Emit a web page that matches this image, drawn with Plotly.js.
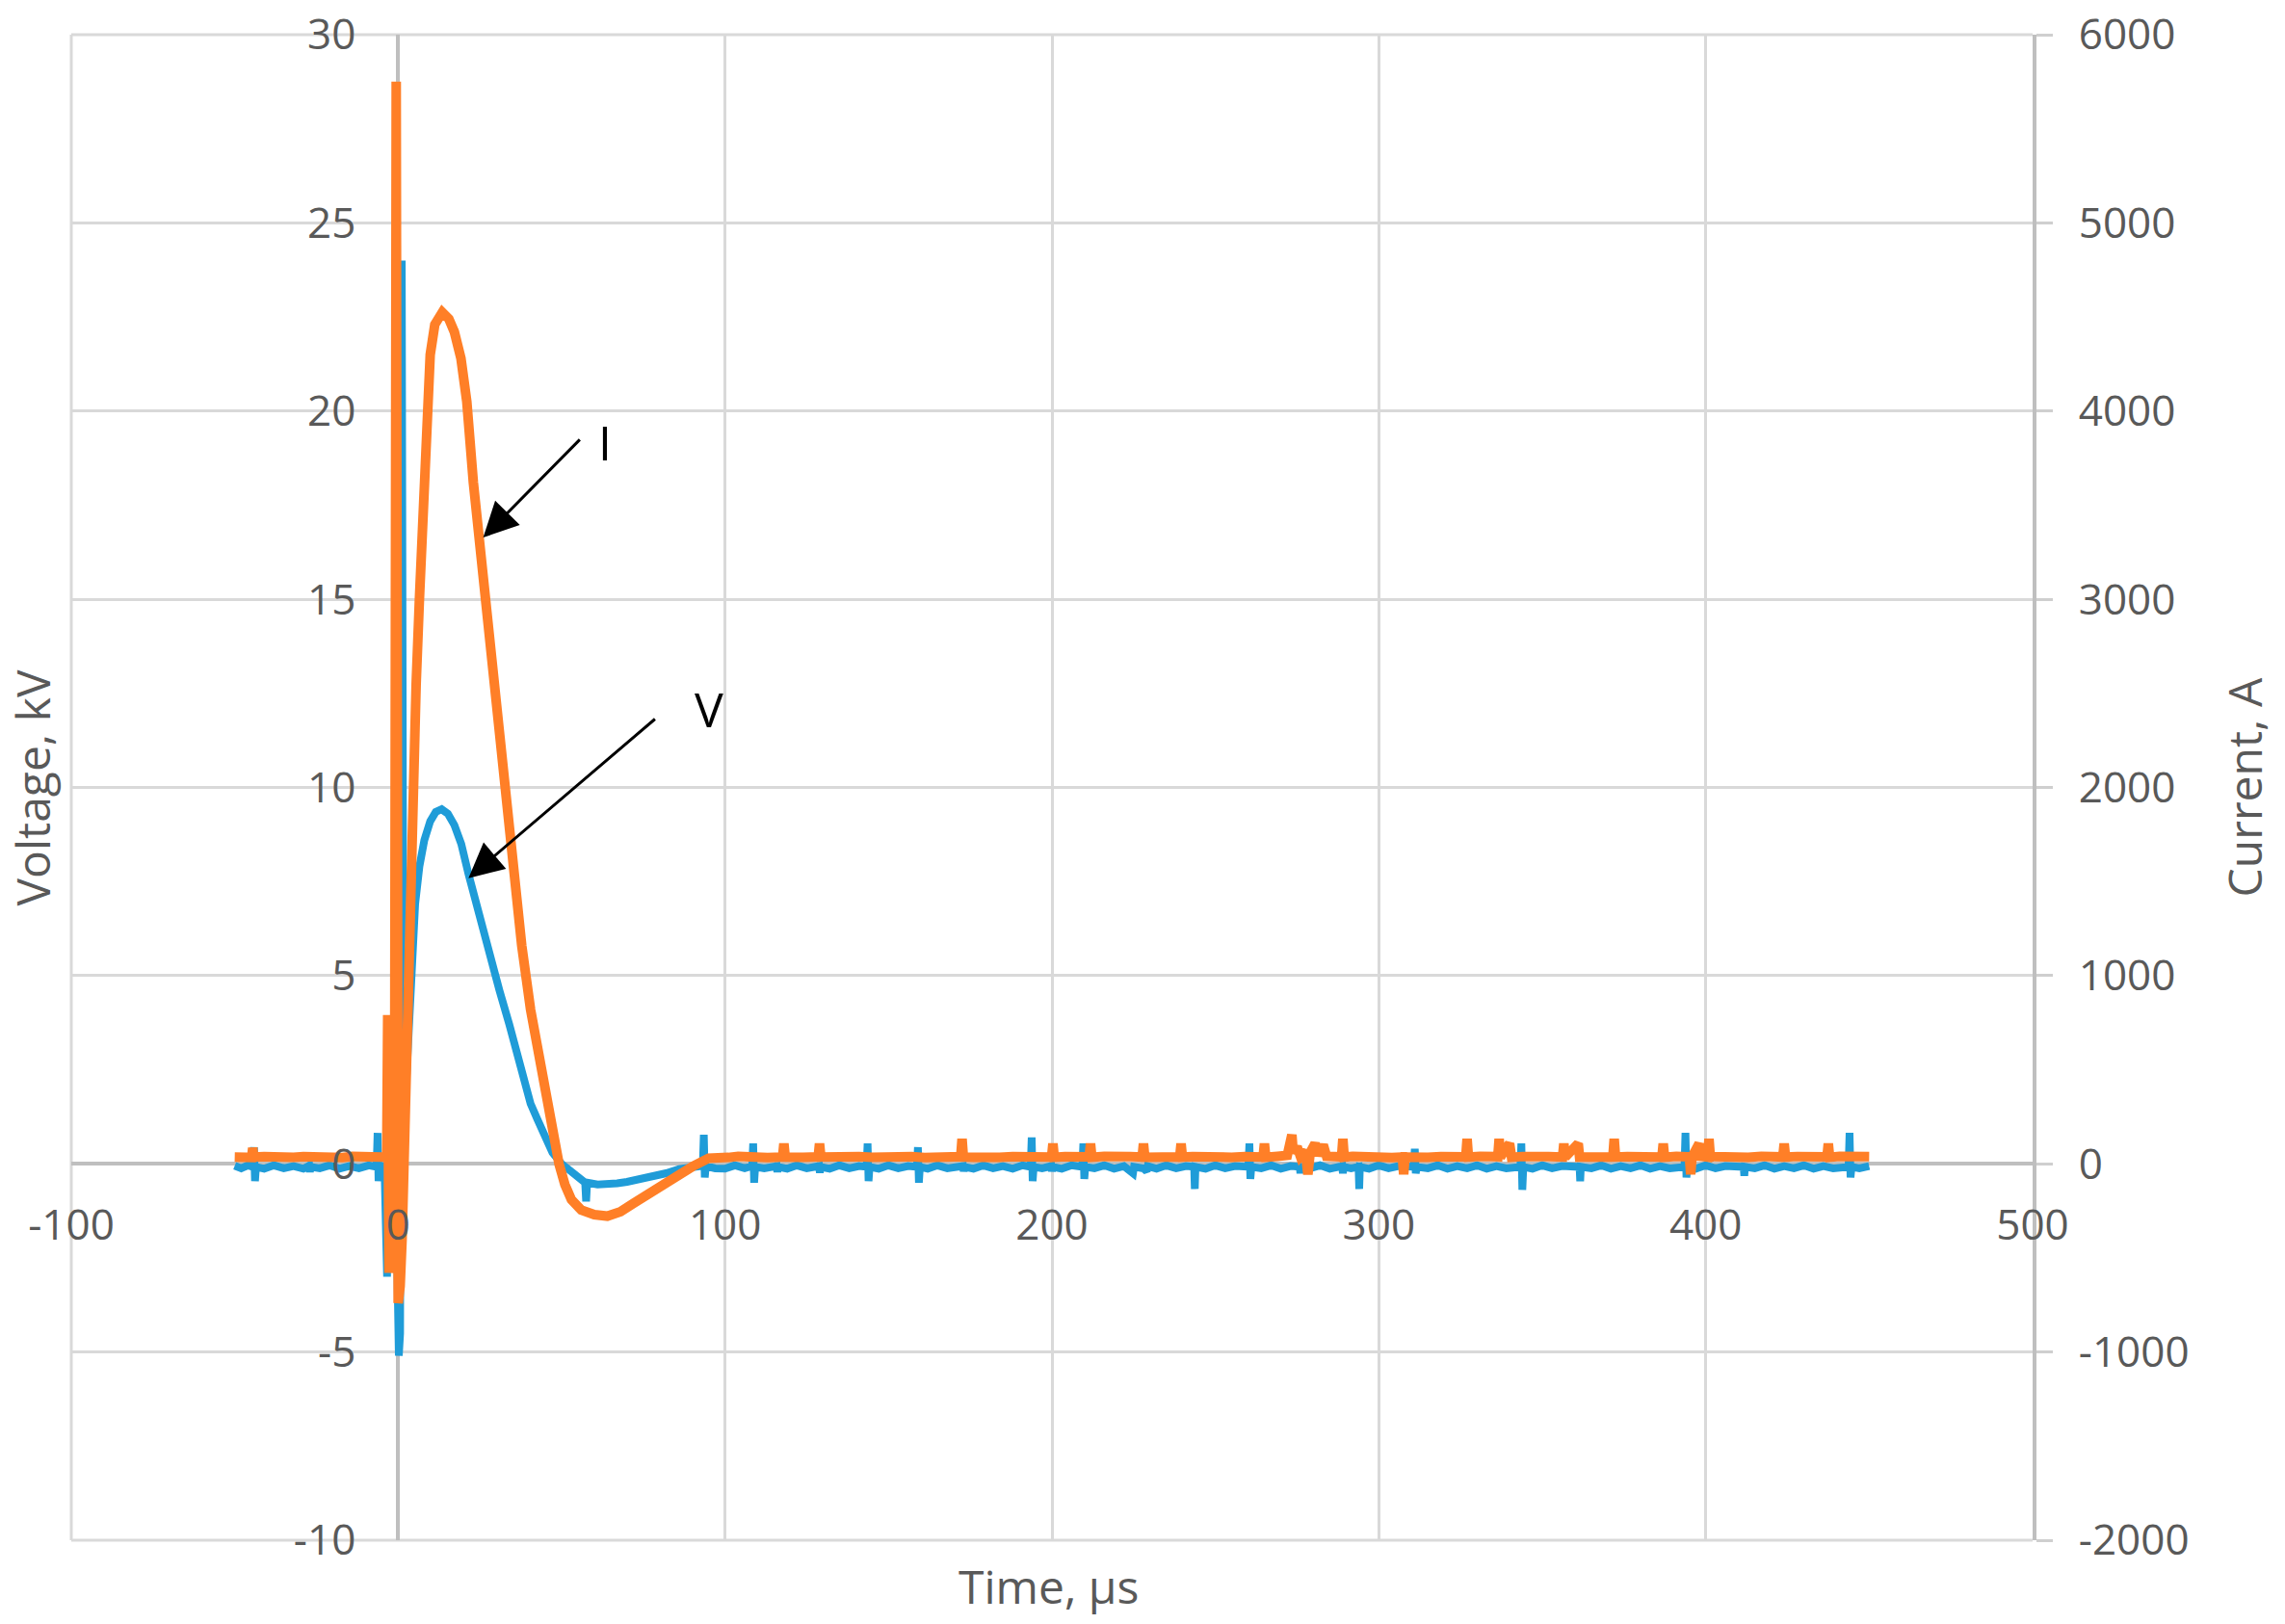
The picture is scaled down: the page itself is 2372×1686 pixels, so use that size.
<!DOCTYPE html>
<html>
<head>
<meta charset="utf-8">
<script src="https://cdn.plot.ly/plotly-3.0.1.min.js"></script>
<style>html,body{margin:0;padding:0;background:#fff;}#chart{width:2372px;height:1686px;}</style>
</head>
<body>
<div id="chart"></div>
<script>
// ---- Data ----
// Voltage trace (left axis, kV)
const timeV = [
 -50,-48,-46,-44.4,-44.1,-43.8,-43.5,-41,-38,-35,-32,-29,-27.2,-27,-26.8,-24,-21,-18,-15,-12,-9,
 -6.6,-6.3,-6.0,-5.7,-4.2,-3.4,-2.9,-2.0,-0.4,0.2,0.6,1.1,1.6,2.3,3.2,4.2,5.2,6.5,8.0,9.8,11.5,13.3,
 15.2,17.2,19.3,21.5,24,26.5,28.5,31,34,36.9,38.7,40.5,42.5,44.8,47.2,50,52.8,55,57.2,57.5,57.8,
 61,64,67,70,74,78,82,86,90,93.2,93.5,93.8,94.1,97,100,103,106,108.3,108.6,108.9,109.2,112,
 115.8,116,116.2,119,122,125,128.8,129,129.2,132,135,138,141,143.3,143.6,143.9,144.2,147,150,153,156,
 158.7,159,159.3,159.6,162,165,168,172.8,173,173.2,176,179,182,185,188,191,193.5,193.8,194.1,194.4,
 197,199.8,200,200.2,203,206,209.3,209.6,209.9,210.2,213,216,219,222,224.8,225.1,228,229,229.3,232,
 235,238,241,243.5,243.7,243.9,247,250,253,256,260.1,260.4,260.7,261,264,267,270,273,275.8,276,276.2,
 279,282,285,288.8,289,289.2,291.5,293.8,294,294.2,297,300,303,306,310.7,311,311.3,311.6,315,318,321,
 324,327,330,333,336,339,343.3,343.6,343.9,344.2,347,350,353,356,361.4,361.6,361.8,365,368,371,374,
 377,380,383,386,389,393.5,393.8,394.1,394.4,397,400,403,406,411.6,411.8,412,415,418,421,424,427,430,
 433,436,439,443.7,444,444.3,444.6,447,450
];
const voltage = [
 -0.05,-0.12,-0.04,-0.08,0.44,-0.46,-0.08,-0.13,-0.04,-0.12,-0.06,-0.13,-0.05,-0.22,-0.08,-0.12,-0.04,-0.13,-0.06,-0.12,-0.04,
 -0.08,0.82,-0.46,-0.08,-0.05,-3.0,0.2,0.1,-2.0,-5.1,-4.5,24.0,3.2,1.9,3.6,5.6,6.9,7.9,8.6,9.1,9.35,9.42,
 9.3,9.0,8.5,7.7,6.85,6.05,5.4,4.6,3.7,2.8,2.1,1.6,1.2,0.75,0.3,0.0,-0.2,-0.4,-0.5,-1.0,-0.5,
 -0.55,-0.56,-0.52,-0.48,-0.42,-0.35,-0.25,-0.14,-0.07,-0.05,0.77,-0.36,-0.06,-0.12,-0.13,-0.04,-0.12,-0.06,0.54,-0.5,-0.08,-0.12,
 -0.06,-0.22,-0.08,-0.13,-0.04,-0.12,-0.06,-0.24,-0.08,-0.13,-0.04,-0.12,-0.06,-0.08,0.54,-0.46,-0.08,-0.13,-0.04,-0.12,-0.06,
 -0.08,0.44,-0.5,-0.08,-0.13,-0.04,-0.12,-0.06,-0.2,-0.08,-0.13,-0.04,-0.12,-0.06,-0.13,-0.04,-0.08,0.7,-0.46,-0.08,
 -0.12,-0.06,-0.2,-0.08,-0.13,-0.04,-0.08,0.54,-0.4,-0.08,-0.12,-0.04,-0.13,-0.06,-0.25,-0.08,-0.12,-0.2,-0.06,-0.13,
 -0.04,-0.12,-0.06,-0.08,-0.67,-0.08,-0.13,-0.04,-0.12,-0.06,-0.08,0.54,-0.4,-0.08,-0.12,-0.04,-0.13,-0.06,-0.08,-0.25,-0.08,
 -0.12,-0.04,-0.13,-0.06,-0.25,-0.08,-0.12,-0.08,-0.67,-0.08,-0.13,-0.04,-0.12,-0.06,-0.08,0.4,-0.25,-0.08,-0.12,-0.04,-0.13,
 -0.06,-0.12,-0.04,-0.13,-0.06,-0.12,-0.08,0.54,-0.69,-0.08,-0.13,-0.04,-0.12,-0.06,-0.08,-0.46,-0.08,-0.12,-0.04,-0.13,-0.06,
 -0.12,-0.04,-0.13,-0.06,-0.12,-0.08,0.82,-0.36,-0.08,-0.13,-0.04,-0.12,-0.06,-0.08,-0.32,-0.08,-0.12,-0.04,-0.13,-0.06,-0.12,-0.04,
 -0.13,-0.06,-0.12,-0.08,0.82,-0.36,-0.08,-0.12,-0.06
];

// Current trace (right axis, A)
const timeI = [
 -50,-47,-44.8,-44.5,-44.2,-41,-38,-35,-32,-29,-26,-23,-20,-17,-14,-11,-8,-5,-3.5,-3.2,-2.8,-2.4,-1.1,-0.6,0.0,0.6,
 1.2,2.2,3.0,3.7,4.5,5.5,6.5,7.7,8.6,9.8,11.2,13.5,15.5,17.2,19.2,21,23,25,27,29,31,33,35,37.8,40.5,43.4,46.6,49.2,
 51,53,56,60,64,68,72,76,80,85,90,95,98,101,104,107,110,113,117.6,118,118.4,121,124,128.5,128.9,129.3,133,137,141,
 145,149,153,157,161,165,169,172.1,172.5,172.9,176,180,184,188,192,196,199.9,200.3,200.7,204,208,211.4,211.8,212.2,
 216,220,224,227.6,228,228.4,232,236,239.1,239.5,239.9,243,247,251,255,259,264.6,265,265.4,269,272,273.4,273.8,275,
 276,277.5,278.3,279,280.5,281.5,283,284,286,288.6,289,289.4,292,296,300,304,307.2,307.6,308,311,315,319,323,326.6,
 327,327.4,331,334,336.4,336.8,337.2,340,340.6,344,348,352,356.2,356.6,357,361,361.4,365,368,371.6,372,372.4,376,380,
 383.6,386.6,387,387.4,391,395,395.4,395.8,398,398.4,400.6,401,401.4,405,409,413,417,420,423.6,424,424.4,428,432,
 437.1,437.5,437.9,441,445,450
];
const current = [
 36,40,34,85,36,38,33,40,35,38,34,40,36,33,39,35,38,36,40,790,-580,50,40,5750,-740,-650,
 -400,400,1000,1450,2000,2550,3000,3600,4000,4300,4460,4525,4490,4420,4280,4050,3620,3290,3000,2610,2240,1930,1620,1160,820,560,215,0,
 -110,-190,-245,-270,-278,-255,-210,-165,-120,-72,-15,30,38,34,40,35,38,33,36,108,36,40,34,37,108,36,40,33,38,
 35,40,34,38,33,39,35,38,133,36,34,40,35,38,33,39,36,108,35,38,34,37,108,35,
 40,33,38,36,108,35,40,34,37,108,36,38,33,40,35,38,36,108,35,40,45,154,60,90,
 40,70,-56,60,108,45,100,40,38,37,133,36,40,34,38,33,36,-56,35,40,34,38,33,37,
 133,36,40,35,38,133,36,108,35,39,33,38,36,108,35,108,36,40,34,37,133,36,38,33,
 39,36,108,35,40,37,-56,36,108,40,36,133,38,34,39,35,40,33,37,108,36,39,34,
 37,108,35,40,34,38
];

// Axis tick values
const xTicks = [-100, 0, 100, 200, 300, 400, 500];
const vTicks = [-10, -5, 0, 5, 10, 15, 20, 25, 30];
const iTicks = [-2000, -1000, 0, 1000, 2000, 3000, 4000, 5000, 6000];

// Labels
const xTitle = 'Time, µs';
const vTitle = 'Voltage, kV';
const iTitle = 'Current, A';

const FONT = '"Open Sans", "Segoe UI", sans-serif';
const TICKCOL = '#595959';
const GRID = '#d9d9d9';

const traces = [
  {x: timeV, y: voltage, type: 'scatter', mode: 'lines', name: 'V',
   line: {color: '#1f9cd8', width: 8}, xaxis: 'x', yaxis: 'y', hoverinfo: 'skip'},
  {x: timeI, y: current, type: 'scatter', mode: 'lines', name: 'I',
   line: {color: '#ff7f27', width: 10}, xaxis: 'x', yaxis: 'y2', hoverinfo: 'skip'}
];

const layout = {
  width: 2372, height: 1686,
  margin: {l: 74, r: 262, t: 36, b: 87, pad: 0},
  paper_bgcolor: '#ffffff', plot_bgcolor: '#ffffff',
  showlegend: false, hovermode: false,
  font: {family: FONT, color: TICKCOL},
  xaxis: {
    range: [-100, 500], tickmode: 'array', tickvals: xTicks, ticktext: xTicks.map(String),
    showgrid: true, gridcolor: GRID, gridwidth: 3,
    zeroline: true, zerolinecolor: '#bfbfbf', zerolinewidth: 4,
    showline: false, anchor: 'free', position: 0.25, ticks: '',
    tickfont: {family: FONT, size: 44, color: TICKCOL}, ticklabelstandoff: 34
  },
  yaxis: {
    range: [-10, 30], tickmode: 'array', tickvals: vTicks, ticktext: vTicks.map(String),
    showgrid: true, gridcolor: GRID, gridwidth: 3,
    zeroline: true, zerolinecolor: '#bfbfbf', zerolinewidth: 4,
    showline: false, anchor: 'free', position: 1/6, ticks: '',
    tickfont: {family: FONT, size: 44, color: TICKCOL}, ticklabelstandoff: 44
  },
  yaxis2: {
    range: [-2000, 6000], tickmode: 'array', tickvals: iTicks, ticktext: iTicks.map(String),
    overlaying: 'y', side: 'right', anchor: 'x',
    showgrid: false, zeroline: false,
    showline: true, linecolor: '#bfbfbf', linewidth: 4,
    ticks: 'outside', ticklen: 17, tickwidth: 3, tickcolor: '#cfcfcf',
    tickfont: {family: FONT, size: 44, color: TICKCOL}, ticklabelstandoff: 18
  },
  shapes: [
    {type: 'line', xref: 'paper', yref: 'paper', x0: 0, x1: 1, y0: 1, y1: 1, layer: 'below', line: {color: GRID, width: 3}},
    {type: 'line', xref: 'paper', yref: 'paper', x0: 0, x1: 1, y0: 0, y1: 0, layer: 'below', line: {color: GRID, width: 3}},
    {type: 'line', xref: 'paper', yref: 'paper', x0: 0, x1: 0, y0: 0, y1: 1, layer: 'below', line: {color: GRID, width: 3}}
  ],
  annotations: [
    {xref: 'paper', yref: 'paper', x: -0.0201, y: 0.5, text: vTitle, textangle: -90,
     showarrow: false, xanchor: 'center', yanchor: 'middle', font: {family: FONT, size: 48, color: TICKCOL}},
    {xref: 'paper', yref: 'paper', x: 1.108, y: 0.5, text: iTitle, textangle: -90,
     showarrow: false, xanchor: 'center', yanchor: 'middle', font: {family: FONT, size: 48, color: TICKCOL}},
    {xref: 'paper', yref: 'paper', x: 0.4985, y: -0.0301, text: xTitle,
     showarrow: false, xanchor: 'center', yanchor: 'middle', font: {family: FONT, size: 48, color: TICKCOL}},
    {xref: 'x', yref: 'y', x: 26, y: 16.64, axref: 'x', ayref: 'y', ax: 56, ay: 19.28, text: '',
     showarrow: true, arrowhead: 2, arrowsize: 2.4, arrowwidth: 3, arrowcolor: '#000000'},
    {xref: 'x', yref: 'y', x: 21.5, y: 7.59, axref: 'x', ayref: 'y', ax: 79, ay: 11.85, text: '',
     showarrow: true, arrowhead: 2, arrowsize: 2.4, arrowwidth: 3, arrowcolor: '#000000'},
    {xref: 'x', yref: 'y', x: 63.4, y: 19.18, text: 'I', showarrow: false,
     xanchor: 'center', yanchor: 'middle', font: {family: FONT, size: 50, color: '#000000'}},
    {xref: 'x', yref: 'y', x: 95, y: 12.08, text: 'V', showarrow: false,
     xanchor: 'center', yanchor: 'middle', font: {family: FONT, size: 50, color: '#000000'}}
  ]
};

Plotly.newPlot('chart', traces, layout, {staticPlot: true, displayModeBar: false});
</script>
</body>
</html>
